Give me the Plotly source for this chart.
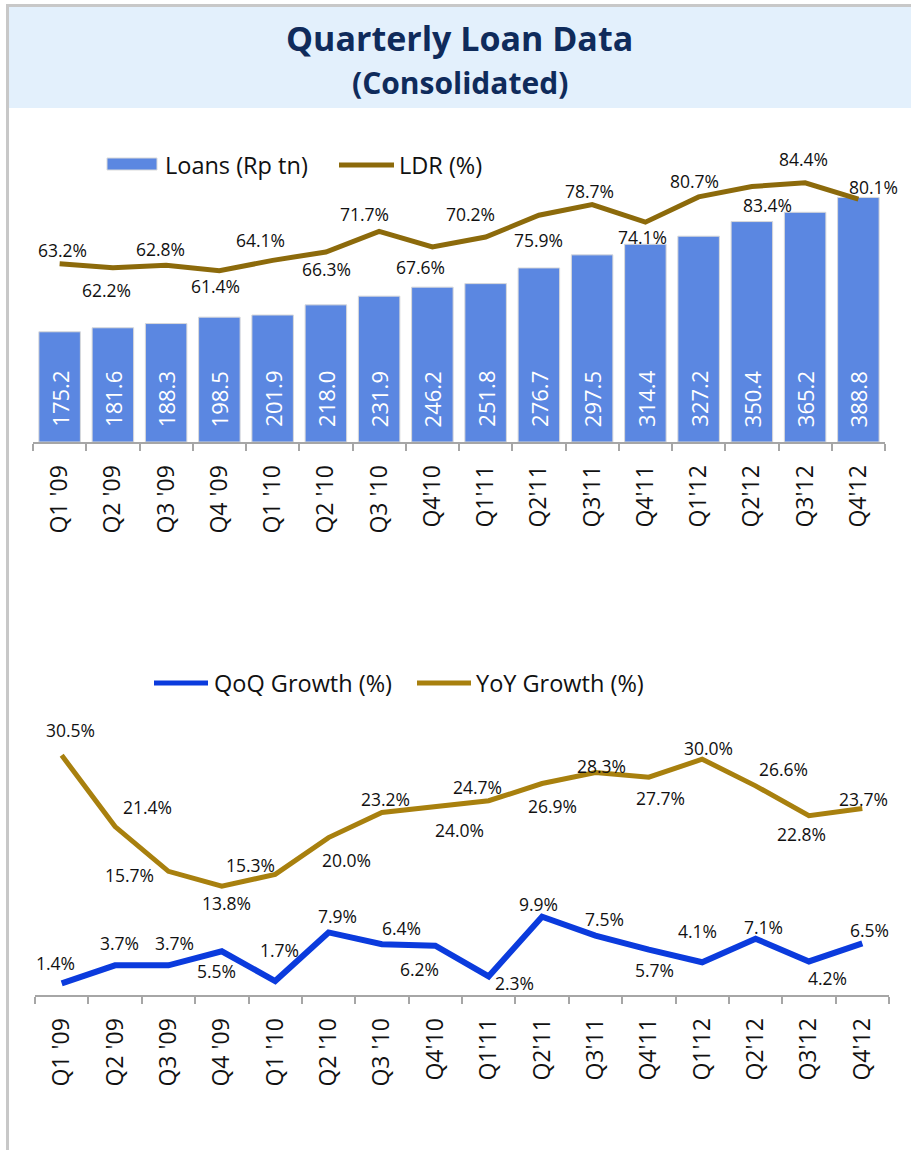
import plotly.graph_objects as go

# quarter labels (shared by both panels)
quarters = ["Q1 '09", "Q2 '09", "Q3 '09", "Q4 '09", "Q1 '10", "Q2 '10", "Q3 '10", "Q4'10",
            "Q1'11", "Q2'11", "Q3'11", "Q4'11", "Q1'12", "Q2'12", "Q3'12", "Q4'12"]

# top panel
loans = [175.2, 181.6, 188.3, 198.5, 201.9, 218.0, 231.9, 246.2,
         251.8, 276.7, 297.5, 314.4, 327.2, 350.4, 365.2, 388.8]
ldr = [63.2, 62.2, 62.8, 61.4, 64.1, 66.3, 71.7, 67.6,
       70.2, 75.9, 78.7, 74.1, 80.7, 83.4, 84.4, 80.1]

# bottom panel
qoq = [1.4, 3.7, 3.7, 5.5, 1.7, 7.9, 6.4, 6.2,
       2.3, 9.9, 7.5, 5.7, 4.1, 7.1, 4.2, 6.5]
yoy = [30.5, 21.4, 15.7, 13.8, 15.3, 20.0, 23.2, 24.0,
       24.7, 26.9, 28.3, 27.7, 30.0, 26.6, 22.8, 23.7]

# label nudges in pixels (right, down) - hand placed like the original slide
ldr_off = [(3, -14), (-6, 22), (-6, -16), (-4, 15), (-12, -20), (1, 17), (-15, -17), (-12, 20),
           (-15, -23), (0, 25), (-3, -14), (-3, 15), (-4, -16), (16, 18), (-2, -24), (15, -12)]
yoy_off = [(9, -25), (32, -20), (-39, 4), (5, 17), (-25, -9), (18, 22), (4, -14), (24, 24),
           (-11, -14), (10, 22), (6, -7), (12, 21), (6, -11), (28, -17), (-7, 18), (1, -10)]
qoq_off = [(-6, -20), (4, -22), (6, -22), (-5, 20), (4, -31), (9, -16), (20, -16), (-16, 23),
           (26, 7), (-4, -13), (9, -17), (6, 20), (-5, -31), (8, -12), (19, 17), (7, -13)]

BAR = "#5B87E1"
LDR_C = "#8C6A0B"
YOY_C = "#A8800E"
QOQ_C = "#0B3BDD"
FONT = "Open Sans"
W, H = 911, 1150


def px(x):
    return x / W


def py(y):
    return 1 - y / H


fig = go.Figure()

fig.add_trace(go.Bar(
    x=quarters, y=loans, marker=dict(color=BAR, line=dict(color="#D9D9D9", width=1)),
    width=0.78, xaxis="x", yaxis="y", showlegend=False, hoverinfo="skip",
))
fig.add_trace(go.Scatter(
    x=quarters, y=ldr, mode="lines", line=dict(color=LDR_C, width=5),
    xaxis="x", yaxis="y2", showlegend=False,
))
fig.add_trace(go.Scatter(
    x=quarters, y=yoy, mode="lines", line=dict(color=YOY_C, width=5),
    xaxis="x2", yaxis="y3", showlegend=False,
))
fig.add_trace(go.Scatter(
    x=quarters, y=qoq, mode="lines", line=dict(color=QOQ_C, width=6),
    xaxis="x2", yaxis="y3", showlegend=False,
))

annotations = []

# loan values written vertically near the base of each bar
for q, v in zip(quarters, loans):
    annotations.append(dict(
        x=q, y=0, xref="x", yref="y", text=f"{v:.1f}", showarrow=False, textangle=-90,
        yanchor="bottom", yshift=13, font=dict(family=FONT, size=22, color="white"),
    ))


def point_labels(vals, offs, xref, yref):
    for q, v, (dx, dy) in zip(quarters, vals, offs):
        annotations.append(dict(
            x=q, y=v, xref=xref, yref=yref, text=f"{v:.1f}%", showarrow=False,
            xshift=dx, yshift=-dy, font=dict(family=FONT, size=17.5, color="#111111"),
        ))


point_labels(ldr, ldr_off, "x", "y2")
point_labels(yoy, yoy_off, "x2", "y3")
point_labels(qoq, qoq_off, "x2", "y3")

# title
annotations.append(dict(x=0.5 + px(4), y=py(38), xref="paper", yref="paper", text="<b>Quarterly Loan Data</b>",
                        showarrow=False, yanchor="middle", font=dict(family=FONT, size=34, color="#0F2B5B")))
annotations.append(dict(x=0.5 + px(4), y=py(82), xref="paper", yref="paper", text="<b>(Consolidated)</b>",
                        showarrow=False, yanchor="middle", font=dict(family=FONT, size=30, color="#0F2B5B")))

# legends drawn by hand (wide swatches like the original)
leg_font = dict(family=FONT, size=23.5, color="#111111")
for x, y, txt in [(163, 165, "Loans (Rp tn)"), (397, 165, "LDR (%)"),
                  (212, 683, "QoQ Growth (%)"), (474, 683, "YoY Growth (%)")]:
    annotations.append(dict(x=px(x), y=py(y), xref="paper", yref="paper", text=txt, showarrow=False,
                            xanchor="left", yanchor="middle", font=leg_font))

shapes = [
    # frame + title box
    dict(type="rect", xref="paper", yref="paper", x0=px(6), x1=1, y0=py(7), y1=py(4),
         fillcolor="#C8C8C8", line_width=0),
    dict(type="rect", xref="paper", yref="paper", x0=px(6), x1=px(9), y0=0, y1=py(4),
         fillcolor="#C8C8C8", line_width=0),
    dict(type="rect", xref="paper", yref="paper", x0=px(9), x1=1, y0=py(108), y1=py(7),
         fillcolor="#E3F0FC", line_width=0),
    # legend swatches
    dict(type="rect", xref="paper", yref="paper", x0=px(107), x1=px(157), y0=py(170), y1=py(158),
         fillcolor=BAR, line=dict(color="#D9D9D9", width=1)),
    dict(type="line", xref="paper", yref="paper", x0=px(339), x1=px(394), y0=py(165), y1=py(165),
         line=dict(color=LDR_C, width=5)),
    dict(type="line", xref="paper", yref="paper", x0=px(154), x1=px(208), y0=py(683), y1=py(683),
         line=dict(color=QOQ_C, width=5)),
    dict(type="line", xref="paper", yref="paper", x0=px(417), x1=px(471), y0=py(683), y1=py(683),
         line=dict(color=YOY_C, width=5)),
]

xax = dict(type="category", range=[-0.5, 15.5], tickangle=-90, ticks="outside", ticklen=7,
           tickwidth=2, tickcolor="#A6A6A6", tickson="boundaries", showline=True, linecolor="#A6A6A6",
           linewidth=2, showgrid=False, zeroline=False, ticklabelstandoff=12,
           tickfont=dict(family=FONT, size=23, color="#111111"))

fig.update_layout(
    width=W, height=H, margin=dict(l=0, r=0, t=0, b=0),
    paper_bgcolor="white", plot_bgcolor="rgba(0,0,0,0)",
    bargap=0.22,
    xaxis=dict(xax, domain=[px(33), px(885)], anchor="y"),
    yaxis=dict(domain=[py(442), py(130)], range=[0, 496], visible=False, anchor="x"),
    yaxis2=dict(overlaying="y", range=[16.6, 98.2], visible=False, anchor="x"),
    xaxis2=dict(xax, domain=[px(35), px(889)], anchor="y3"),
    yaxis3=dict(domain=[py(995), py(720)], range=[-0.08, 35.0], visible=False, anchor="x2"),
    annotations=annotations,
    shapes=shapes,
)

# page body has a default margin; drop it so the figure sits at the window edge
fig.write_html("out.html", config={"displayModeBar": False},
               post_script="document.body.style.margin='0';")
